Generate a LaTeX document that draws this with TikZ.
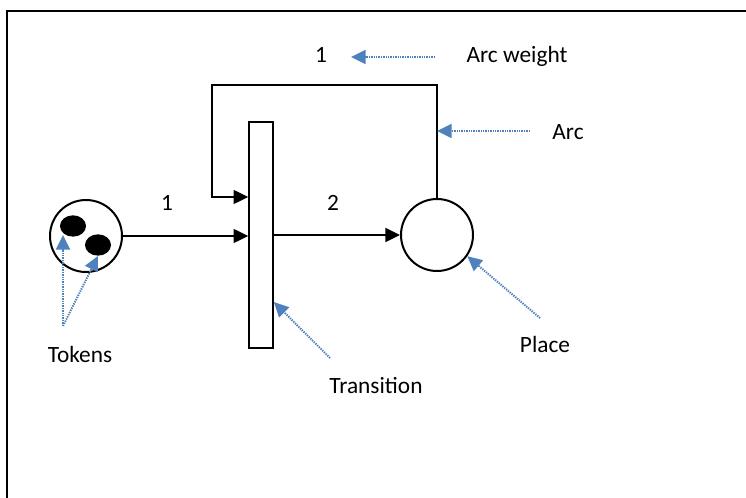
\documentclass[tikz,border=0pt]{standalone}
\usepackage{fontspec}
\setmainfont{Carlito}
\usetikzlibrary{arrows.meta, positioning, shapes.geometric}
\definecolor{notecolor}{RGB}{79,129,189}
\tikzset{
    placenode/.style={
        circle,
        draw=black,
        line width=1.5pt,
        minimum size=54pt,
        inner sep=0pt
    },
    transnode/.style={
        rectangle,
        draw=black,
        line width=1.2pt,
        minimum width=18pt,
        minimum height=169.5pt,
        inner sep=0pt
    },
    tokennode/.style={
        ellipse,
        fill=black,
        minimum width=19.5pt,
        minimum height=16pt,
        inner sep=0pt
    },
    petriarc/.style={
        -{Triangle[length=11pt, width=10.5pt]},
        line width=1.2pt,
        draw=black
    },
    notearrow/.style={
        -{Triangle[length=11pt, width=10.5pt]},
        line width=1.5pt,
        dash pattern=on 1pt off 0.8pt,
        draw=notecolor
    },
    labeltext/.style={
        anchor=base,
        inner sep=0pt,
        font=\fontsize{17.5}{21}\selectfont
    }
}

\begin{document}
\begin{tikzpicture}[x=0.75pt, y=-0.75pt]
    \useasboundingbox (0,0) rectangle (746,498);
    % frame
    \draw[line width=1.5pt] (7,498) -- (7,11) -- (746,11);

    \node[placenode] (tokplace) at (86,236) {};
    \node[tokennode] (token1) at (73,226) {};
    \node[tokennode] (token2) at (98,245) {};
    \node[transnode] (trans) at (261,235) {};
    \node[placenode] (place) at (437,235) {};

    \coordinate (looptop) at (212,85);
    \coordinate (loopin) at (212,197);

    \draw[petriarc] (tokplace.east) -- (trans.west |- tokplace.east);
    \draw[petriarc] (trans.east |- place.west) -- (place.west);
    \draw[petriarc] (place.north) |- (looptop) -- (loopin) -- (loopin -| trans.west);

    \node[labeltext] (w1) at (167,211) {1};
    \node[labeltext] (w2) at (333,211) {2};
    \node[labeltext] (w3) at (321,63) {1};

    \node[labeltext] (weightnote) at (517,63) {Arc weight};
    \node[labeltext] (arcnote) at (568,140) {Arc};
    \node[labeltext] (placenote) at (545,353) {Place};
    \node[labeltext] (transnote) at (376,394) {Transition};
    \node[labeltext] (tokennote) at (80,363) {Tokens};

    \coordinate (weightfrom) at (435,57);
    \coordinate (weightto) at (351,57);
    \coordinate (arcfrom) at (530,131);
    \coordinate (placefrom) at (540,318);
    \coordinate (transfrom) at (330,358);
    \coordinate (tokenfrom) at (63,326);

    \draw[notearrow] (weightfrom) -- (weightto);
    \draw[notearrow] (arcfrom) -- (arcfrom -| place.north);
    \draw[notearrow] (placefrom) -- (place.-35);
    \draw[notearrow] (transfrom) -- (trans.east |- 0,302);
    \draw[notearrow] (tokenfrom) -- (tokenfrom |- 0,235);
    \draw[notearrow] (tokenfrom) -- (token2.south);
\end{tikzpicture}
\end{document}
